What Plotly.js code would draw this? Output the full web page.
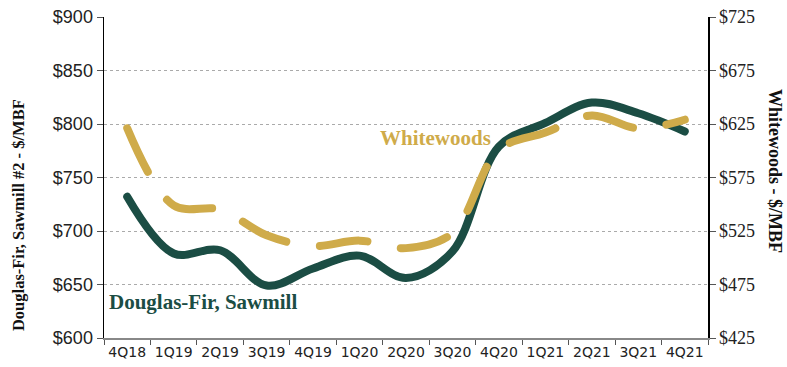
<!DOCTYPE html>
<html>
<head>
<meta charset="utf-8">
<script src="https://cdn.plot.ly/plotly-3.0.1.min.js"></script>
<style>
html,body{margin:0;padding:0;background:#fff;}
#chart{width:787px;height:367px;}
path.js-line{stroke-linecap:round !important;}
</style>
</head>
<body>
<div id="chart"></div>
<script>
const quarters = ["4Q18","1Q19","2Q19","3Q19","4Q19","1Q20","2Q20","3Q20","4Q20","1Q21","2Q21","3Q21","4Q21"];
const douglasFir = [732, 679, 682, 649, 665, 677, 656, 681, 779, 801, 820, 810, 793];
const whitewoods = [621, 549, 545, 521, 511, 516, 509, 523, 601, 617, 633, 621, 629];

const green = "#1b4d44";
const gold = "#cfab4a";
const serif = "Liberation Serif, serif";

const traces = [
  {
    x: quarters, y: whitewoods, yaxis: "y2", type: "scatter", mode: "lines",
    name: "Whitewoods",
    line: {color: gold, width: 8, shape: "spline", smoothing: 1, dash: "48px,34px"},
    hoverinfo: "skip"
  },
  {
    x: quarters, y: douglasFir, yaxis: "y", type: "scatter", mode: "lines",
    name: "Douglas-Fir, Sawmill",
    line: {color: green, width: 8, shape: "spline", smoothing: 1},
    hoverinfo: "skip"
  }
];

const layout = {
  width: 787, height: 367,
  margin: {l: 104, r: 79, t: 17, b: 29},
  paper_bgcolor: "#fff", plot_bgcolor: "#fff",
  showlegend: false,
  xaxis: {
    type: "category",
    range: [-0.5, quarters.length - 0.5],
    tickson: "boundaries",
    tickangle: 0,
    ticks: "outside", ticklen: 5, tickcolor: "#555", tickwidth: 1,
    showgrid: false,
    showline: true, linecolor: "#888", linewidth: 2,
    tickfont: {family: "DejaVu Sans, sans-serif", size: 14, color: "#222"},
    zeroline: false
  },
  yaxis: {
    range: [600, 900], tick0: 600, dtick: 50, tickprefix: "$",
    showgrid: true, gridcolor: "#aaa", gridwidth: 1, griddash: "dot",
    showline: true, linecolor: "#000", linewidth: 1.5,
    ticks: "outside", ticklen: 6, tickcolor: "#555",
    tickfont: {family: "Liberation Sans, Arial, sans-serif", size: 18, color: "#222"},
    zeroline: false
  },
  yaxis2: {
    range: [425, 725], tick0: 425, dtick: 50, tickprefix: "$",
    overlaying: "y", side: "right",
    showgrid: false,
    showline: true, linecolor: "#000", linewidth: 1.5,
    ticks: "outside", ticklen: 6, tickcolor: "#555",
    tickfont: {family: serif, size: 18, color: "#222"},
    zeroline: false
  },
  annotations: [
    {
      text: "Douglas-Fir, Sawmill #2 - $/MBF", xref: "paper", yref: "paper",
      x: -0.1424, y: 0.383, xanchor: "center", yanchor: "middle", textangle: -90, showarrow: false,
      font: {family: serif, size: 16.5, color: "#111", weight: "bold"}
    },
    {
      text: "Whitewoods - $/MBF", xref: "paper", yref: "paper",
      x: 1.111, y: 0.52, xanchor: "center", yanchor: "middle", textangle: 90, showarrow: false,
      font: {family: serif, size: 18, color: "#111", weight: "bold"}
    },
    {
      text: "Douglas-Fir, Sawmill", xref: "paper", yref: "y",
      x: 0.005, y: 634, xanchor: "left", yanchor: "middle", showarrow: false,
      font: {family: serif, size: 21, color: green, weight: "bold"}
    },
    {
      text: "Whitewoods", xref: "paper", yref: "y",
      x: 0.4536, y: 787, xanchor: "left", yanchor: "middle", showarrow: false,
      font: {family: serif, size: 21, color: gold, weight: "bold"}
    }
  ]
};

Plotly.newPlot("chart", traces, layout, {staticPlot: true, displayModeBar: false});
</script>
</body>
</html>
